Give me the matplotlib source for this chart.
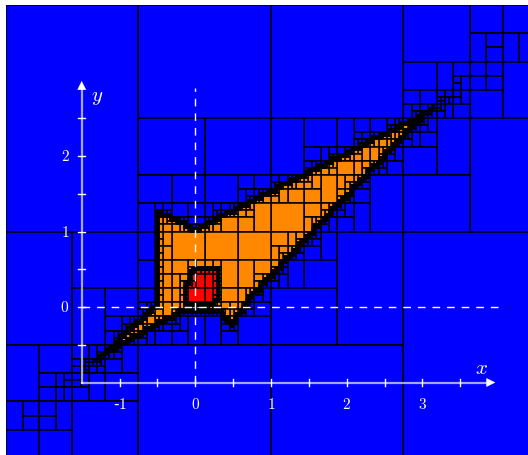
import numpy as np
import matplotlib
matplotlib.use('Agg')
import matplotlib.pyplot as plt
from matplotlib.collections import PolyCollection
from matplotlib.path import Path

plt.rcParams['mathtext.fontset'] = 'cm'

# starting box of the paving and stop width
x_range = [-2.5, 4.5]
y_range = [-2.0, 4.0]
eps = 0.05
ray_k = 0.33     # bisection beyond the tips, along the long axis

# outline of the orange set
outer_x = [-1.20, -0.16, 0.30, 0.49, 0.75, 3.02, 0.00, -0.50, -0.50]
outer_y = [-0.62, -0.04, -0.03, -0.23, 0.15, 2.55, 1.02, 1.27, 0.03]

# outline of the red hole
inner_x = [-0.13, -0.13, 0.00, 0.30, 0.30, 0.13]
inner_y = [0.04, 0.27, 0.51, 0.51, 0.08, 0.01]

# the two tips of the long axis
tip_x = [-1.20, 3.02]
tip_y = [-0.62, 2.55]

x_ticks = [-1, -0.5, 0, 0.5, 1, 1.5, 2, 2.5, 3, 3.5]
x_labels = [-1, 0, 1, 2, 3]
y_ticks = [-0.5, 0, 0.5, 1, 1.5, 2, 2.5]
y_labels = [0, 1, 2]

colors = {'out': '#0000FF', 'in': '#FF8800', 'hole': '#FF0000', 'bnd': '#000000'}


def edges(px, py):
    n = len(px)
    return [(px[i], py[i], px[(i + 1) % n], py[(i + 1) % n]) for i in range(n)]


def seg_hits_box(seg, xa, xb, ya, yb):
    # Liang-Barsky clipping
    x0, y0, x1, y1 = seg
    dx, dy = x1 - x0, y1 - y0
    t0, t1 = 0.0, 1.0
    for p, q in ((-dx, x0 - xa), (dx, xb - x0), (-dy, y0 - ya), (dy, yb - y0)):
        if p == 0:
            if q < 0:
                return False
        else:
            t = q / p
            if p < 0:
                t0 = max(t0, t)
            else:
                t1 = min(t1, t)
            if t0 > t1:
                return False
    return True


outer_path = Path(np.column_stack([outer_x, outer_y]))
inner_path = Path(np.column_stack([inner_x, inner_y]))
all_edges = edges(outer_x, outer_y) + edges(inner_x, inner_y)

# rays going on from each tip, away from the set
dxl, dyl = tip_x[1] - tip_x[0], tip_y[1] - tip_y[0]
rays = [(tip_x[0], tip_y[0], tip_x[0] - 3 * dxl, tip_y[0] - 3 * dyl),
        (tip_x[1], tip_y[1], tip_x[1] + 3 * dxl, tip_y[1] + 3 * dyl)]


def box_dist(px, py, xa, xb, ya, yb):
    dx = max(xa - px, 0, px - xb)
    dy = max(ya - py, 0, py - yb)
    return np.hypot(dx, dy)


def classify(xa, xb, ya, yb):
    for s in all_edges:
        if seg_hits_box(s, xa, xb, ya, yb):
            return 'bnd'
    size = max(xb - xa, yb - ya)
    for r in rays:
        if seg_hits_box(r, xa, xb, ya, yb) and size > ray_k * box_dist(r[0], r[1], xa, xb, ya, yb):
            return 'split'
    c = ((xa + xb) / 2, (ya + yb) / 2)
    if inner_path.contains_point(c):
        return 'hole'
    if outer_path.contains_point(c):
        return 'in'
    return 'out'


# sivia-like paving, bisect along the widest side
boxes = {'out': [], 'in': [], 'hole': [], 'bnd': []}
stack = [(x_range[0], x_range[1], y_range[0], y_range[1])]
while stack:
    xa, xb, ya, yb = stack.pop()
    kind = classify(xa, xb, ya, yb)
    if kind in ('bnd', 'split') and max(xb - xa, yb - ya) >= eps:
        if xb - xa >= yb - ya:
            m = (xa + xb) / 2
            stack += [(xa, m, ya, yb), (m, xb, ya, yb)]
        else:
            m = (ya + yb) / 2
            stack += [(xa, xb, ya, m), (xa, xb, m, yb)]
    else:
        if kind == 'split':
            kind = 'out'
        boxes[kind].append([(xa, ya), (xb, ya), (xb, yb), (xa, yb)])

fig = plt.figure(figsize=(5.28, 4.56), dpi=100)
ax = fig.add_axes([6 / 528, 0, 522 / 528, 450 / 456])
for kind in ['out', 'in', 'hole', 'bnd']:
    pc = PolyCollection(boxes[kind], facecolors=colors[kind], edgecolors='black',
                        linewidths=1.1)
    ax.add_collection(pc)

ax.set_xlim(-2.5, -2.5 + 522 / 75.7)
ax.set_ylim(4 - 450 / 75.5, 4)
ax.set_aspect('auto')
ax.axis('off')

# dashed lines through the origin
ax.plot([0, 0], [-1, 2.9], color='white', lw=1.0, dashes=(5.5, 5))
ax.plot([-1.5, 4.0], [0, 0], color='white', lw=1.0, dashes=(5.5, 5))

# axes with arrows
ax.plot([-1.5, 3.9], [-1, -1], color='white', alpha=0.65, lw=1.6)
ax.plot([-1.5, -1.5], [-1, 2.9], color='white', alpha=0.65, lw=1.6)
ax.annotate('', xy=(4.0, -1), xytext=(3.85, -1),
            arrowprops=dict(arrowstyle='-|>', color='white', lw=0.5, mutation_scale=14))
ax.annotate('', xy=(-1.5, 3.03), xytext=(-1.5, 2.88),
            arrowprops=dict(arrowstyle='-|>', color='white', lw=0.5, mutation_scale=14))

for t in x_ticks:
    ax.plot([t, t], [-1.05, -0.95], color='white', lw=1.0)
for t in y_ticks:
    ax.plot([-1.55, -1.45], [t, t], color='white', lw=1.0)
for t in x_labels:
    ax.text(t, -1.28, r'$%d$' % t if t >= 0 else '-' + r'$%d$' % -t, color='white',
            ha='center', va='center', fontsize=11)
for t in y_labels:
    ax.text(-1.72, t, r'$%d$' % t, color='white', ha='center', va='center', fontsize=11)

ax.text(3.78, -0.8, r'$x$', color='white', ha='center', va='center', fontsize=15)
ax.text(-1.29, 2.8, r'$y$', color='white', ha='center', va='center', fontsize=15)

fig.savefig('out.png', dpi=100, facecolor='white')
